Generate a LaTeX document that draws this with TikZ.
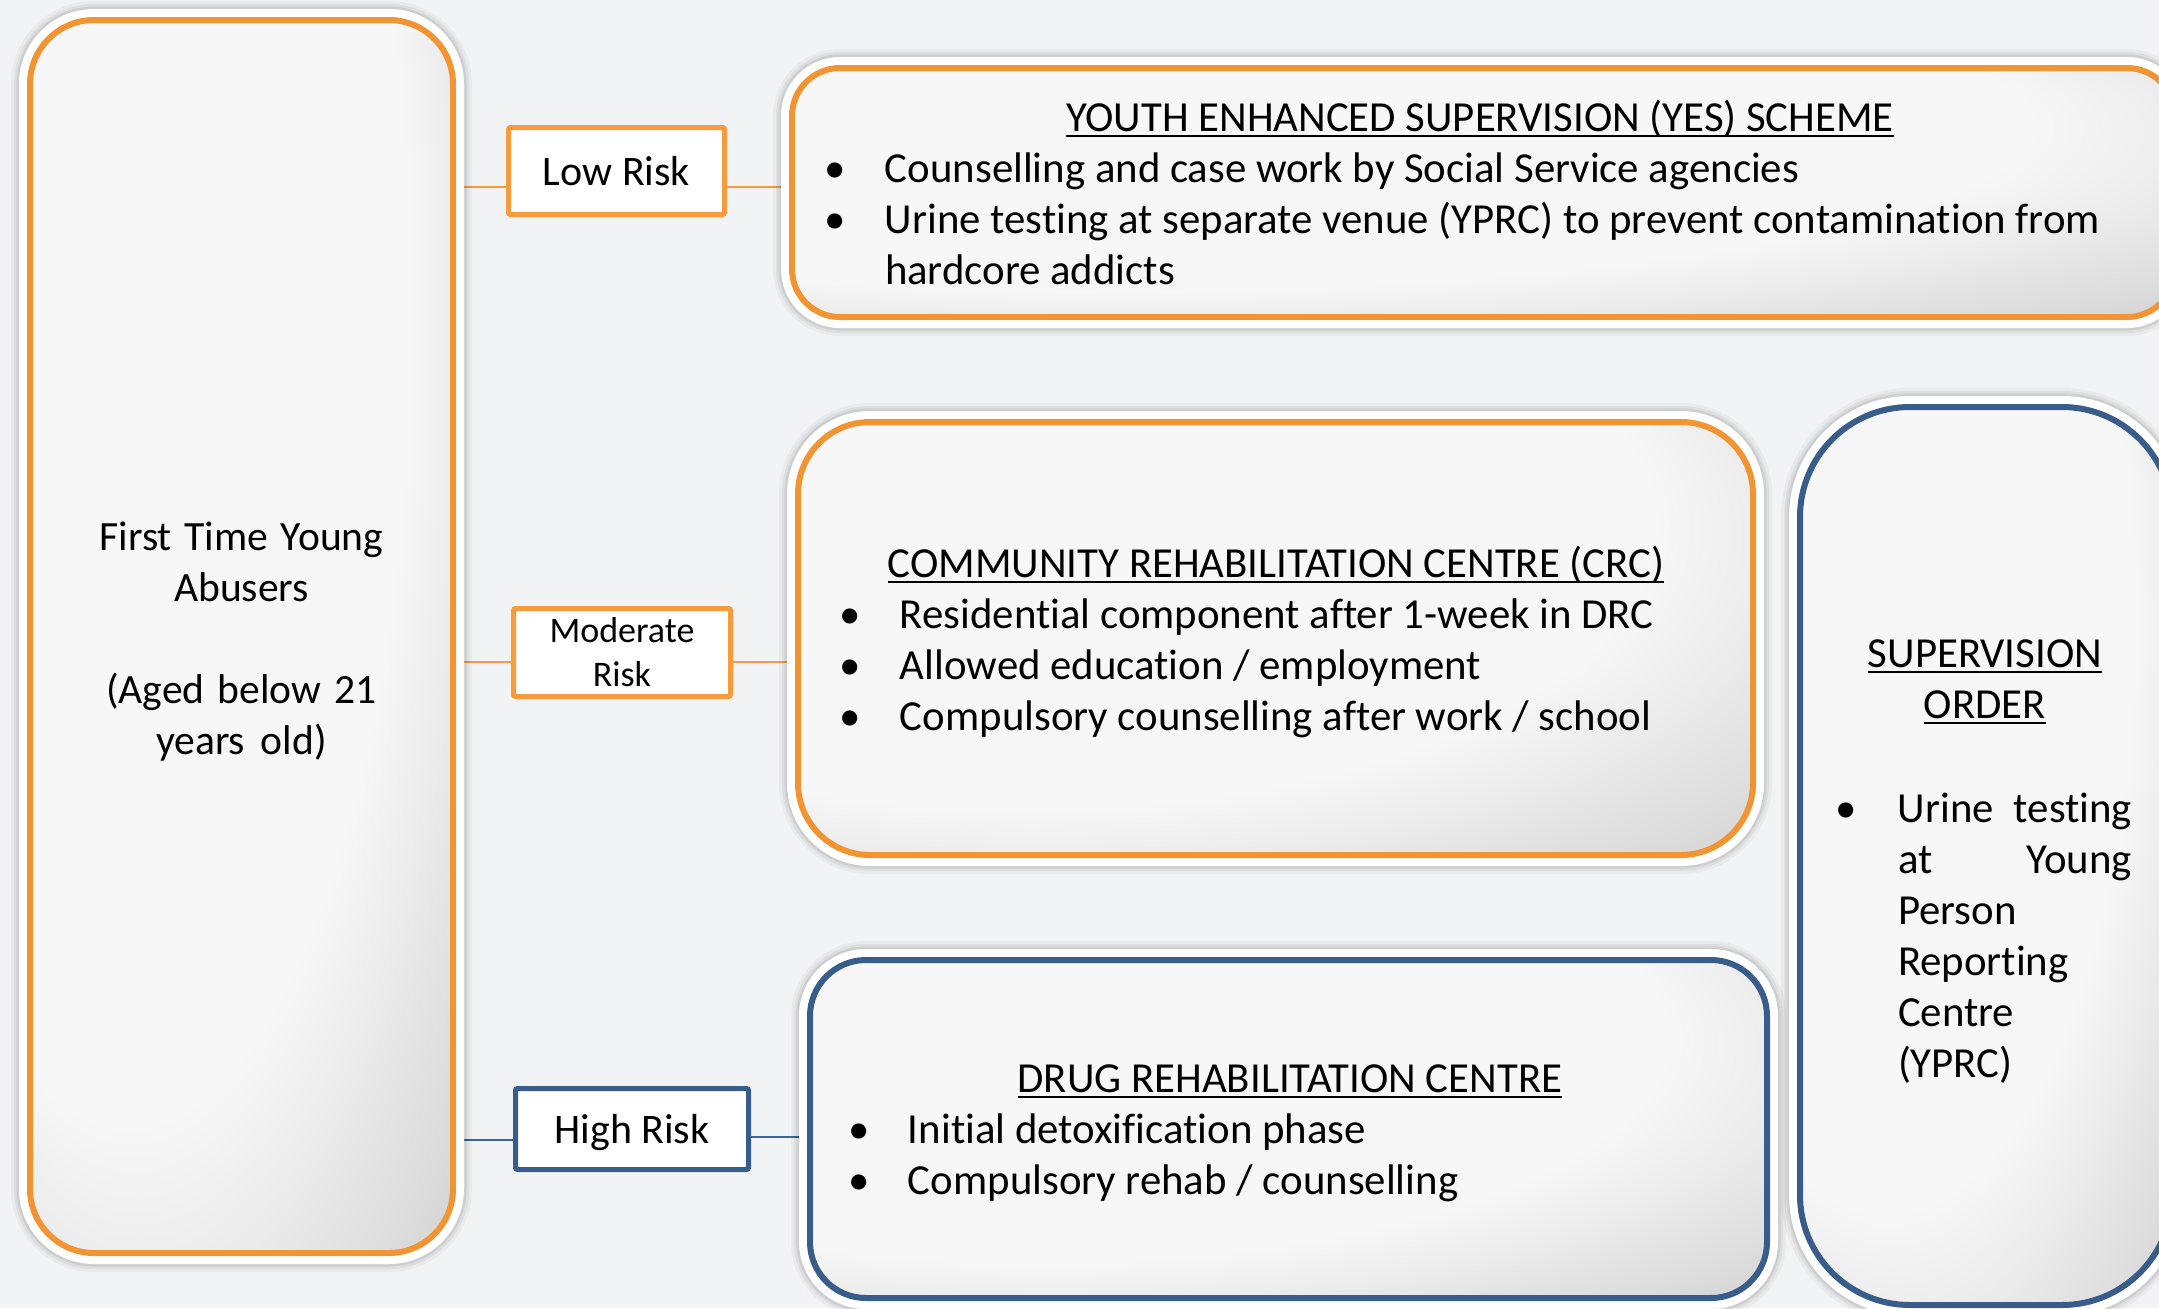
\documentclass[tikz,border=0pt]{standalone}
\usepackage{fontspec}
\setmainfont{Carlito}[Ligatures=NoCommon]
\usetikzlibrary{backgrounds}

\definecolor{canvas}{HTML}{F2F3F4}
\definecolor{pfill}{HTML}{F7F7F7}
\definecolor{pdark}{HTML}{CFCFCF}
\definecolor{orng}{HTML}{F39433}
\definecolor{orngl}{HTML}{F99B3C}
\definecolor{navy}{HTML}{385D8A}
\definecolor{navyl}{HTML}{3F6497}

% soft grey darkening towards the lower right corner of each panel
\pgfdeclareradialshading{panelshade}{\pgfpoint{-25bp}{25bp}}{color(0bp)=(pfill); color(33bp)=(pfill); color(49bp)=(pdark); color(70bp)=(pdark)}

% underlined heading word(s), rule just below the baseline
\newcommand\undl[1]{\leavevmode\setbox0=\hbox{#1}\rlap{\rule[-3pt]{\wd0}{1pt}}\box0}
% keep the font's own interword spacing inside aligned nodes
\newcommand\natspace{\spaceskip=0pt\xspaceskip=0pt\relax}

\tikzset{
  panel/.style={shape=rectangle, inner sep=0pt, outer sep=0pt,
    draw=#1, line width=3pt, shade, shading=panelshade,
    preaction={draw=black, draw opacity=0.035, line width=19pt},
    preaction={draw=black, draw opacity=0.05, line width=16pt},
    preaction={draw=black, draw opacity=0.07, line width=13.5pt},
    preaction={draw=white, line width=11pt}},
  riskbox/.style={shape=rectangle, draw=#1, fill=white, line width=2.5pt,
    rounded corners=1pt, inner sep=0pt, outer sep=0pt, align=center},
  body/.style={font=\fontsize{21.4}{25.5}\selectfont, inner sep=0pt, outer sep=0pt,
    text width=#1, align=left, anchor=base west},
  heading/.style={font=\fontsize{21.4}{25.5}\selectfont, inner sep=0pt, outer sep=0pt,
    text width=#1, align=center, anchor=base},
  link/.style={draw=#1, line width=1pt}
}

\begin{document}
\begin{tikzpicture}[x=0.5pt, y=-0.5pt]
\useasboundingbox (0,0) rectangle (2159,1308);

\begin{scope}
\clip (0,0) rectangle (2159,1308);

% main panels
\node[panel=orng, rounded corners=32pt, minimum width=211.5pt, minimum height=616.5pt]
  (young) at (241.5,636.5) {};
\node[panel=orng, rounded corners=24pt, minimum width=691.5pt, minimum height=124.5pt]
  (yes) at (1483.5,192.5) {};
\node[panel=orng, rounded corners=36pt, minimum width=477.5pt, minimum height=216.5pt]
  (crc) at (1275.5,638.5) {};
\node[panel=navy, rounded corners=28pt, minimum width=478.5pt, minimum height=169pt]
  (drc) at (1288.5,1129) {};
\node[panel=navy, rounded corners=55pt, minimum width=186pt, minimum height=449pt]
  (sup) at (1986,856) {};

% risk labels
\node[riskbox=orngl, minimum width=108pt, minimum height=43.5pt, text depth=0pt,
  font=\fontsize{21}{25.5}\selectfont] (low) at (616.5,171) {\natspace Low Risk};
\node[riskbox=orngl, minimum width=108.5pt, minimum height=44pt,
  font=\fontsize{18}{22}\selectfont] (mod) at (622,652.5) {Moderate\\Risk};
\node[riskbox=navy, minimum width=116.5pt, minimum height=40.5pt, text depth=0pt,
  font=\fontsize{21}{25.5}\selectfont] (high) at (632,1129) {\natspace High Risk};

% panel texts
\node[heading=200pt, font=\fontsize{20.8}{25.5}\selectfont] (youngtxt) at (241.5,550)
  {\natspace First Time Young\\Abusers\\[25.5pt](Aged below 21\\years old)};

\node[heading=600pt] (yestitle) at (1480,131)
  {\natspace\undl{YOUTH ENHANCED SUPERVISION (YES) SCHEME}};
\node[body=660pt] (yeslist) at (824,182)
  {\natspace
   \makebox[30.5pt][l]{•}Counselling and case work by Social Service agencies\\
   \makebox[30.5pt][l]{•}Urine testing at separate venue (YPRC) to prevent contamination from\\
   \hspace*{30.5pt}hardcore addicts};

\node[heading=450pt] (crctitle) at (1276,577)
  {\natspace\undl{COMMUNITY REHABILITATION CENTRE (CRC)}};
\node[body=450pt] (crclist) at (839,628)
  {\natspace
   \makebox[30.5pt][l]{•}Residential component after 1-week in DRC\\
   \makebox[30.5pt][l]{•}Allowed education / employment\\
   \makebox[30.5pt][l]{•}Compulsory counselling after work / school};

\node[heading=450pt] (drctitle) at (1290,1092)
  {\natspace\undl{DRUG REHABILITATION CENTRE}};
\node[body=450pt] (drclist) at (848,1143)
  {\natspace
   \makebox[30pt][l]{•}Initial detoxification phase\\
   \makebox[30pt][l]{•}Compulsory rehab / counselling};

\node[heading=170pt] (suptitle) at (1985,667)
  {\undl{SUPERVISION}\\\undl{ORDER}};
\node[body=160pt] (suplist) at (1835,822)
  {\natspace
   \makebox[31.5pt][l]{•}\makebox[117pt][s]{Urine testing}\\
   \hspace*{31.5pt}\makebox[117pt][s]{at Young}\\
   \hspace*{31.5pt}Person\\
   \hspace*{31.5pt}Reporting\\
   \hspace*{31.5pt}Centre\\
   \hspace*{31.5pt}(YPRC)};
\end{scope}

% canvas and connectors behind everything
\begin{scope}[on background layer]
\fill[canvas] (0,0) rectangle (2159,1308);
\draw[link=orngl] ([yshift=-8pt]low.west) -- ([yshift=-8pt]low.west -| young.east);
\draw[link=orngl] ([yshift=-8pt]low.east) -- ([yshift=-8pt]low.east -| yes.west);
\draw[link=orngl] ([yshift=-4.75pt]mod.west) -- ([yshift=-4.75pt]mod.west -| young.east);
\draw[link=orngl] ([yshift=-4.75pt]mod.east) -- ([yshift=-4.75pt]mod.east -| crc.west);
\draw[link=navyl] ([yshift=-5.5pt]high.west) -- ([yshift=-5.5pt]high.west -| young.east);
\draw[link=navyl] ([yshift=-4pt]high.east) -- ([yshift=-4pt]high.east -| drc.west);
\end{scope}
\end{tikzpicture}
\end{document}
